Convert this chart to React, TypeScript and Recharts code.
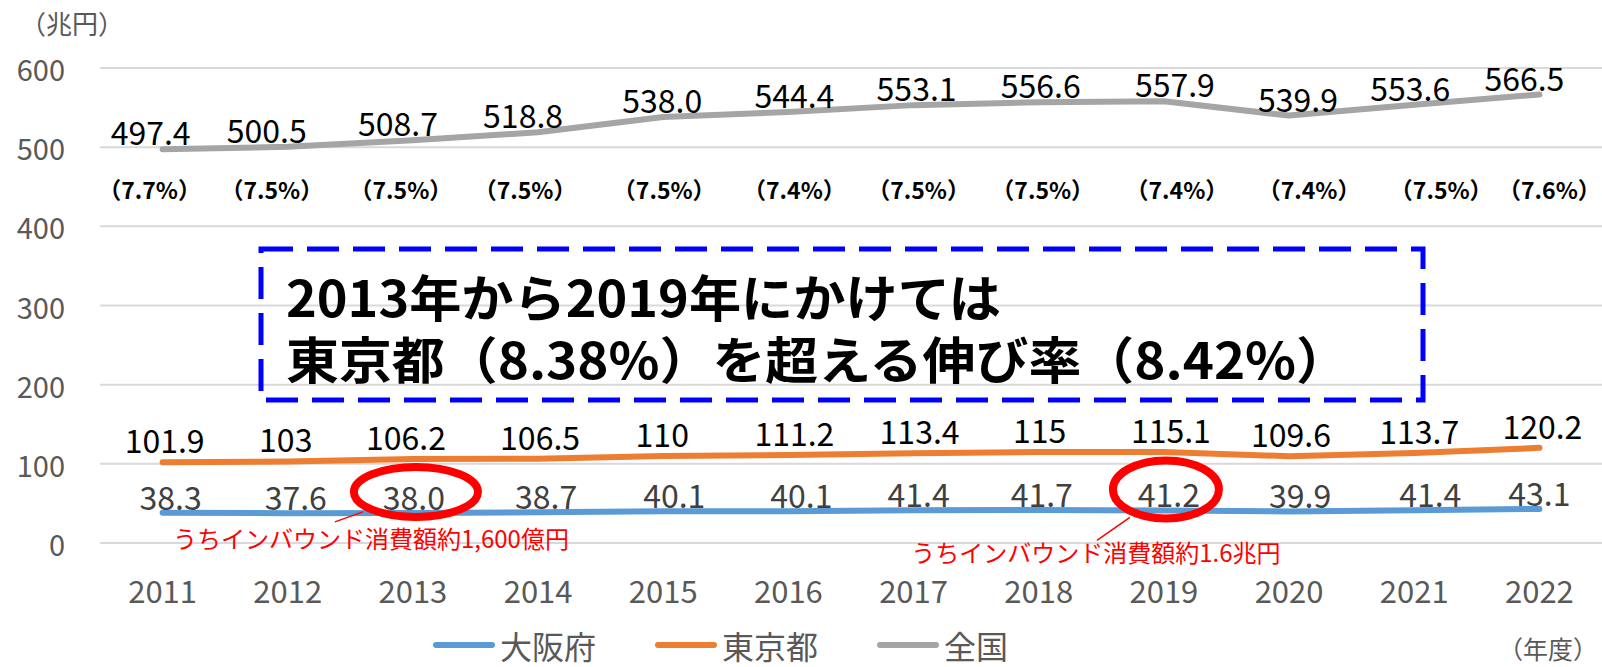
import React from 'react';
import { LineChart, Line, XAxis, YAxis, CartesianGrid, LabelList, Legend } from 'recharts';

// ---------- data ----------
const years = ['2011', '2012', '2013', '2014', '2015', '2016', '2017', '2018', '2019', '2020', '2021', '2022'];
const osaka = [38.3, 37.6, 38.0, 38.7, 40.1, 40.1, 41.4, 41.7, 41.2, 39.9, 41.4, 43.1];
const tokyo = [101.9, 103, 106.2, 106.5, 110, 111.2, 113.4, 115, 115.1, 109.6, 113.7, 120.2];
const national = [497.4, 500.5, 508.7, 518.8, 538.0, 544.4, 553.1, 556.6, 557.9, 539.9, 553.6, 566.5];
const osakaShare = ['7.7%', '7.5%', '7.5%', '7.5%', '7.5%', '7.4%', '7.5%', '7.5%', '7.4%', '7.4%', '7.5%', '7.6%'];
const yTicks = [0, 100, 200, 300, 400, 500, 600];
const seriesNames = { osaka: '大阪府', tokyo: '東京都', national: '全国' };
const annotationIndex = [2, 8];
const annotationText = ['うちインバウンド消費額約1,600億円', 'うちインバウンド消費額約1.6兆円'];
const boxLines = ['2013年から2019年にかけては', '東京都（8.38%）を超える伸び率（8.42%）'];
const yUnit = '（兆円）';
const xUnit = '（年度）';

const data = years.map((year, i) => ({ year, osaka: osaka[i], tokyo: tokyo[i], national: national[i] }));

// ---------- styling / label nudges ----------
const FONT = '"Noto Sans CJK JP", "Noto Sans", sans-serif';
const COLORS = { osaka: '#5B9BD5', tokyo: '#ED7D31', national: '#A5A5A5' };
const nationalDx = [-12, -21, -15, -15, -1, 6, 3, 2, 11, 9, -4, -15];
const tokyoDx = [2, -2, -7, 2, -1, 6, 6, 1, 7, 2, 5, 3];
const osakaDx = [8, 8, 1, 8, 11, 13, 5, 3, 5, 11, 16, 0];
const shareDx = [-13, -16, -12, -13, 1, 6, 5, 4, 13, 20, 27, 10];
const SHARE_Y = 189;
// annotation geometry relative to the data point
const annoLayout = [
  { ex: 3, ey: -21, rx: 62, ry: 25, tx: -42, ty: 25, l: [-50, -1, -78, 9] },
  { ex: 2, ey: -21, rx: 53, ry: 29, tx: -68, ty: 41, l: [-34, 7, -67, 30] },
];

const getXY = (p: any) => {
  const x = p.viewBox && p.viewBox.x != null ? p.viewBox.x : p.x;
  const y = p.viewBox && p.viewBox.y != null ? p.viewBox.y : p.y;
  return { x, y };
};

const makeValueLabel = (dxArr: number[], dy: number, fill: string, fmt: (v: number) => string) => (props: any) => {
  const { x, y } = getXY(props);
  const i = props.index ?? 0;
  return (
    <text x={x + dxArr[i]} y={y - dy} textAnchor="middle" dominantBaseline="central" fontSize={32} fill={fill} fontFamily={FONT}>
      {fmt(Number(props.value))}
    </text>
  );
};

const NationalLabel = makeValueLabel(nationalDx, 18, '#000000', (v) => v.toFixed(1));
const TokyoLabel = makeValueLabel(tokyoDx, 23, '#000000', (v) => String(v));

const ShareLabel = (props: any) => {
  const { x } = getXY(props);
  const i = props.index ?? 0;
  return (
    <text x={x + shareDx[i]} y={SHARE_Y} textAnchor="middle" dominantBaseline="central" fontSize={23} fontWeight={700} fill="#000000" fontFamily={FONT}>
      {'（' + osakaShare[i] + '）'}
    </text>
  );
};

const OsakaLabel = (props: any) => {
  const { x, y } = getXY(props);
  const i = props.index ?? 0;
  const a = annotationIndex.indexOf(i);
  const base = (
    <text x={x + osakaDx[i]} y={y - 17} textAnchor="middle" dominantBaseline="central" fontSize={32} fill="#404040" fontFamily={FONT}>
      {Number(props.value).toFixed(1)}
    </text>
  );
  if (a < 0) return base;
  const L = annoLayout[a];
  return (
    <g>
      {base}
      <ellipse cx={x + L.ex} cy={y + L.ey} rx={L.rx} ry={L.ry} fill="none" stroke="#FF0000" strokeWidth={8} />
      <line x1={x + L.l[0]} y1={y + L.l[1]} x2={x + L.l[2]} y2={y + L.l[3]} stroke="#FF0000" strokeWidth={1.5} />
      <text x={x + L.tx} y={y + L.ty} textAnchor="middle" dominantBaseline="central" fontSize={24} fill="#FF0000" fontFamily={FONT}>
        {annotationText[a]}
      </text>
    </g>
  );
};

const XTick = (props: any) => (
  <text x={props.x} y={props.y} textAnchor="middle" dominantBaseline="central" fontSize={31} fill="#595959" fontFamily={FONT}>
    {props.payload.value}
  </text>
);
const YTick = (props: any) => (
  <text x={props.x} y={props.y} textAnchor="end" dominantBaseline="central" fontSize={29} fill="#595959" fontFamily={FONT}>
    {props.payload.value}
  </text>
);

const LegendContent = () => {
  const keys: Array<keyof typeof seriesNames> = ['osaka', 'tokyo', 'national'];
  return (
    <div style={{ display: 'flex', alignItems: 'center', height: 46, paddingLeft: 433, fontFamily: FONT }}>
      {keys.map((k) => (
        <div key={k} style={{ display: 'flex', alignItems: 'center', marginRight: 59 }}>
          <span style={{ display: 'inline-block', width: 62, height: 6, borderRadius: 3, background: COLORS[k] }} />
          <span style={{ marginLeft: 5, fontSize: 32, color: '#595959', lineHeight: '46px' }}>{seriesNames[k]}</span>
        </div>
      ))}
    </div>
  );
};

export default function App() {
  return (
    <div style={{ position: 'absolute', left: 0, top: 0, width: 1602, height: 667, background: '#fff', fontFamily: FONT }}>
      <LineChart width={1602} height={667} data={data} margin={{ top: 68, right: 0, left: 0, bottom: 44 }}>
        <CartesianGrid horizontal vertical={false} stroke="#D9D9D9" strokeWidth={2} />
        <XAxis dataKey="year" axisLine={false} tickLine={false} interval={0} height={80} tickMargin={40}
          padding={{ left: 62.6, right: 62.6 }} tick={<XTick />} />
        <YAxis domain={[0, 600]} ticks={yTicks} axisLine={false} tickLine={false} width={100} tickMargin={29} tick={<YTick />} />
        <Legend layout="horizontal" verticalAlign="middle" align="center" content={<LegendContent />}
          wrapperStyle={{ position: 'absolute', left: 0, top: 622, width: 1602, height: 46, bottom: 'auto' }} />
        <Line type="linear" dataKey="osaka" name={seriesNames.osaka} stroke={COLORS.osaka} strokeWidth={6} strokeLinecap="round" strokeLinejoin="round" dot={false} isAnimationActive={false}>
          <LabelList dataKey="osaka" content={OsakaLabel} />
        </Line>
        <Line type="linear" dataKey="tokyo" name={seriesNames.tokyo} stroke={COLORS.tokyo} strokeWidth={6} strokeLinecap="round" strokeLinejoin="round" dot={false} isAnimationActive={false}>
          <LabelList dataKey="tokyo" content={TokyoLabel} />
        </Line>
        <Line type="linear" dataKey="national" name={seriesNames.national} stroke={COLORS.national} strokeWidth={6} strokeLinecap="round" strokeLinejoin="round" dot={false} isAnimationActive={false}>
          <LabelList dataKey="national" content={NationalLabel} />
          <LabelList dataKey="national" content={ShareLabel} />
        </Line>
      </LineChart>
      <svg width={1602} height={667} style={{ position: 'absolute', left: 0, top: 0, pointerEvents: 'none' }}>
        <text x={20} y={22} dominantBaseline="central" fontSize={26} fill="#595959" fontFamily={FONT}>{yUnit}</text>
        <text x={1598} y={648} textAnchor="end" dominantBaseline="central" fontSize={25} fill="#595959" fontFamily={FONT}>{xUnit}</text>
        <rect x={261} y={249} width={1162} height={151} fill="none" stroke="#0000FF" strokeWidth={5} strokeDasharray="32 14" />
        <text x={286} y={295} dominantBaseline="central" fontSize={50} fontWeight={700} fill="#000" fontFamily={FONT}
          textLength={715} lengthAdjust="spacingAndGlyphs">{boxLines[0]}</text>
        <text x={286} y={357} dominantBaseline="central" fontSize={50} fontWeight={700} fill="#000" fontFamily={FONT}
          textLength={1063} lengthAdjust="spacingAndGlyphs">{boxLines[1]}</text>
      </svg>
    </div>
  );
}
